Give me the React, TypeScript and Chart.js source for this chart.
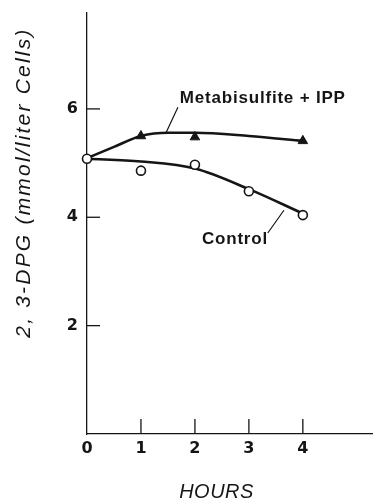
import React, { useEffect, useRef } from "react";
import { Chart, registerables } from "chart.js";

Chart.register(...registerables);

// Measured 2,3-DPG levels (mmol/liter cells) over time in hours
const controlHours = [0, 1, 2, 3, 4];
const controlValues = [5.08, 4.86, 4.97, 4.48, 4.04];
const metaHours = [1, 2, 4];
const metaValues = [5.5, 5.48, 5.41];

// Hand-drawn trend curves through each series
const metaCurveHours = [0, 0.5, 1, 1.5, 2, 3, 4];
const metaCurveValues = [5.09, 5.3, 5.5, 5.56, 5.56, 5.5, 5.41];
const controlCurveHours = [0, 1, 2, 3, 4];
const controlCurveValues = [5.08, 5.03, 4.9, 4.52, 4.07];

const xTicks = [0, 1, 2, 3, 4];
const yTicks = [2, 4, 6];

const INK = "#151515";
const LABEL_FONT = '"Liberation Sans", Arial, sans-serif';
const DIGIT_FONT = '"DejaVu Sans", "Liberation Sans", sans-serif';

const pts = (xs: number[], ys: number[]) => xs.map((x, i) => ({ x, y: ys[i] }));

const noScalePadding = (s: any) => {
  s.paddingTop = 0;
  s.paddingBottom = 0;
  s.paddingLeft = 0;
  s.paddingRight = 0;
};

const overlay = {
  id: "overlay",
  afterDraw(chart: any) {
    const { ctx, chartArea, scales } = chart;
    const x = scales.x;
    const y = scales.y;
    ctx.save();
    ctx.strokeStyle = INK;
    ctx.fillStyle = INK;
    ctx.lineWidth = 1.3;

    // inward tick marks
    yTicks.forEach((v) => {
      const py = y.getPixelForValue(v);
      ctx.beginPath();
      ctx.moveTo(chartArea.left, py);
      ctx.lineTo(chartArea.left + 13, py);
      ctx.stroke();
    });
    xTicks.slice(1).forEach((v) => {
      const px = x.getPixelForValue(v);
      ctx.beginPath();
      ctx.moveTo(px, chartArea.bottom);
      ctx.lineTo(px, chartArea.bottom - 15);
      ctx.stroke();
    });

    // series labels with leader lines
    ctx.font = `bold 17px ${LABEL_FONT}`;
    ctx.textAlign = "left";
    ctx.textBaseline = "alphabetic";
    (ctx as any).letterSpacing = "0.8px";
    ctx.fillText("Metabisulfite + IPP", x.getPixelForValue(1.72), y.getPixelForValue(6.11));
    ctx.fillText("Control", x.getPixelForValue(2.13), y.getPixelForValue(3.5));

    ctx.lineWidth = 1.2;
    ctx.beginPath();
    ctx.moveTo(x.getPixelForValue(1.685), y.getPixelForValue(6.03));
    ctx.lineTo(x.getPixelForValue(1.46), y.getPixelForValue(5.55));
    ctx.moveTo(x.getPixelForValue(3.35), y.getPixelForValue(3.71));
    ctx.lineTo(x.getPixelForValue(3.65), y.getPixelForValue(4.13));
    ctx.stroke();

    // axis titles
    ctx.textAlign = "center";
    ctx.textBaseline = "middle";
    ctx.font = `italic 20px ${LABEL_FONT}`;
    (ctx as any).letterSpacing = "0.5px";
    ctx.fillText("HOURS", x.getPixelForValue(2.4), 492);

    ctx.font = `italic 21px ${LABEL_FONT}`;
    (ctx as any).letterSpacing = "2.2px";
    ctx.translate(24, y.getPixelForValue(4.64));
    ctx.rotate(-Math.PI / 2);
    ctx.fillText("2, 3-DPG (mmol/liter Cells)", 0, 0);
    ctx.restore();
  },
};

export default function App() {
  const ref = useRef<HTMLCanvasElement>(null);

  useEffect(() => {
    if (!ref.current) return;
    const tickFont = { family: DIGIT_FONT, size: 16, weight: "bold" as const };
    const chart = new Chart(ref.current, {
      type: "line",
      data: {
        datasets: [
          {
            label: "Metabisulfite + IPP",
            data: pts(metaHours, metaValues),
            showLine: false,
            pointStyle: "triangle",
            pointRadius: 5.5,
            pointBackgroundColor: INK,
            pointBorderColor: INK,
            pointBorderWidth: 1,
            clip: false,
          },
          {
            label: "Control",
            data: pts(controlHours, controlValues),
            showLine: false,
            pointStyle: "circle",
            pointRadius: 4.5,
            pointBackgroundColor: "#fff",
            pointBorderColor: INK,
            pointBorderWidth: 1.6,
            clip: false,
          },
          {
            label: "Metabisulfite + IPP trend",
            data: pts(metaCurveHours, metaCurveValues),
            borderColor: INK,
            borderWidth: 2.6,
            pointRadius: 0,
            cubicInterpolationMode: "monotone",
            clip: false,
          },
          {
            label: "Control trend",
            data: pts(controlCurveHours, controlCurveValues),
            borderColor: INK,
            borderWidth: 2.6,
            pointRadius: 0,
            cubicInterpolationMode: "monotone",
            clip: false,
          },
        ],
      },
      options: {
        responsive: false,
        animation: false,
        layout: { autoPadding: false, padding: { top: 13, right: 0, bottom: 0, left: 0 } },
        plugins: {
          legend: { display: false },
          tooltip: { enabled: false },
        },
        scales: {
          x: {
            type: "linear",
            min: 0,
            max: 5.3,
            afterBuildTicks: (s: any) => {
              s.ticks = xTicks.map((value) => ({ value }));
            },
            afterFit: (s: any) => {
              s.height = 67;
              noScalePadding(s);
            },
            grid: { display: false, drawTicks: false },
            border: { display: true, color: INK, width: 1.3 },
            ticks: { color: INK, font: tickFont, padding: 5 },
          },
          y: {
            type: "linear",
            min: 0,
            max: 7.77,
            afterBuildTicks: (s: any) => {
              s.ticks = yTicks.map((value) => ({ value }));
            },
            afterFit: (s: any) => {
              s.width = 87;
              noScalePadding(s);
            },
            grid: { display: false, drawTicks: false },
            border: { display: true, color: INK, width: 1.3 },
            ticks: { color: INK, font: tickFont, padding: 9 },
          },
        },
      },
      plugins: [overlay],
    });
    return () => chart.destroy();
  }, []);

  return (
    <div style={{ position: "absolute", left: 0, top: 0, width: 373, height: 501, background: "#fff" }}>
      <canvas ref={ref} width={373} height={501} />
    </div>
  );
}
